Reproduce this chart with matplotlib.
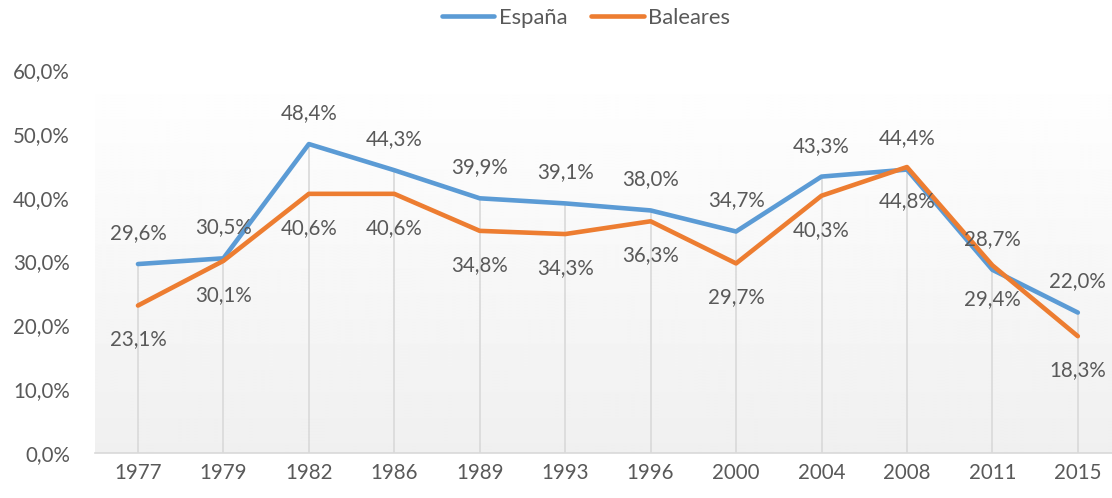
import numpy as np
import matplotlib
matplotlib.use("Agg")
import matplotlib.pyplot as plt

plt.rcParams['font.family'] = ['Lato', 'DejaVu Sans']

years = ["1977", "1979", "1982", "1986", "1989", "1993", "1996", "2000", "2004", "2008", "2011", "2015"]
espana = [29.6, 30.5, 48.4, 44.3, 39.9, 39.1, 38.0, 34.7, 43.3, 44.4, 28.7, 22.0]
baleares = [23.1, 30.1, 40.6, 40.6, 34.8, 34.3, 36.3, 29.7, 40.3, 44.8, 29.4, 18.3]

blue = "#5B9BD5"
orange = "#ED7D31"
grey_text = "#595959"
fs = 14.8

def pct(v):
    return f"{v:.1f}%".replace(".", ",")

fig = plt.figure(figsize=(11.12, 4.98), dpi=100)
ax = fig.add_axes([95 / 1112, 1 - 453 / 498, 1 - 95 / 1112, (453 - 70) / 498])

x = np.arange(len(years))
ax.set_xlim(-0.503, 11.40)
ax.set_ylim(0, 60)

# gradient background
grad = np.linspace(1.0, 0.94, 256).reshape(-1, 1)
ax.imshow(grad, cmap="gray", vmin=0, vmax=1, aspect="auto",
          extent=[-0.503, 11.40, 0, 60], zorder=0)

# drop lines
tops = np.maximum(espana, baleares)
ax.vlines(x, 0, tops, color="#d9d9d9", lw=1.2, zorder=1)

ax.plot(x, espana, color=blue, lw=3.3, label="España", zorder=3, solid_capstyle="round")
ax.plot(x, baleares, color=orange, lw=3.3, label="Baleares", zorder=3, solid_capstyle="round")

for i in x:
    ax.annotate(pct(espana[i]), (i, espana[i]), xytext=(0, 31), textcoords="offset pixels",
                ha="center", va="center", fontsize=fs, color=grey_text, zorder=4)
    ax.annotate(pct(baleares[i]), (i, baleares[i]), xytext=(0, -34), textcoords="offset pixels",
                ha="center", va="center", fontsize=fs, color=grey_text, zorder=4)

ax.set_xticks(x)
ax.set_xticklabels(years)
ax.set_yticks(np.arange(0, 61, 10))
ax.set_yticklabels([pct(v) for v in range(0, 61, 10)])
ax.tick_params(axis="both", length=0, labelsize=fs, colors=grey_text)
ax.tick_params(axis="x", pad=7)
ax.tick_params(axis="y", pad=18)

for s in ["top", "right", "left"]:
    ax.spines[s].set_visible(False)
ax.spines["bottom"].set_color("#d9d9d9")
ax.spines["bottom"].set_linewidth(1.2)

leg = fig.legend(loc="center", bbox_to_anchor=(586 / 1112, 1 - 18 / 498), ncol=2, frameon=False,
                 fontsize=15.8, handlelength=2.4, handletextpad=0.2, columnspacing=1.1)
for t in leg.get_texts():
    t.set_color(grey_text)

fig.savefig("out.png", dpi=100)
